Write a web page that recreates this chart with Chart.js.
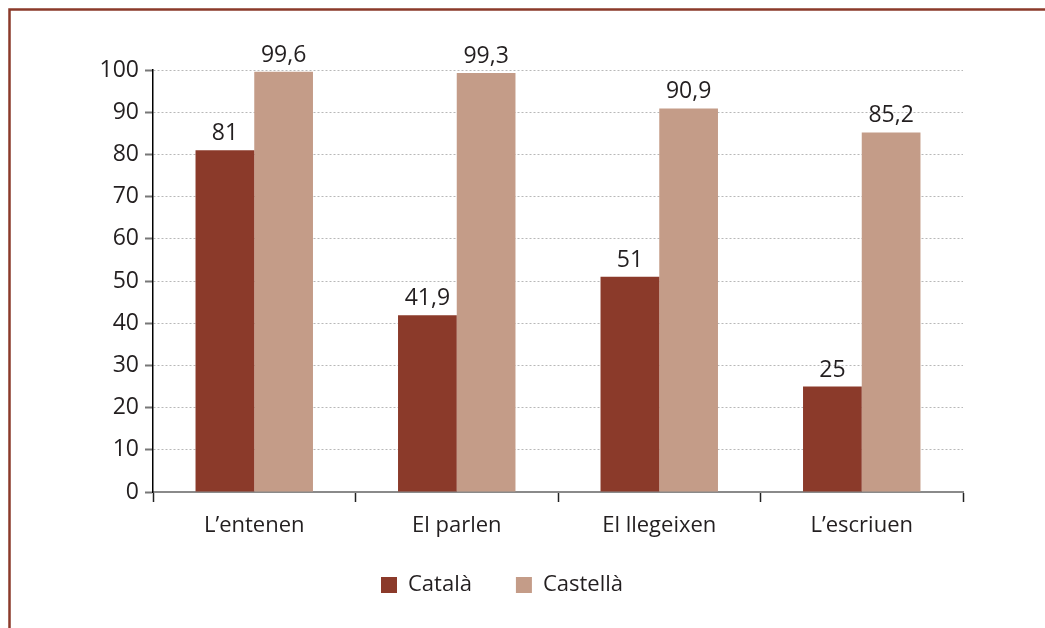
<!DOCTYPE html>
<html>
<head>
<meta charset="utf-8">
<script src="https://cdn.jsdelivr.net/npm/chart.js@4.4.1/dist/chart.umd.min.js"></script>
<style>
html,body{margin:0;padding:0;background:#fff;}
#wrap{position:relative;width:1045px;height:628px;}
</style>
</head>
<body>
<div id="wrap"><canvas id="c" width="1045" height="628"></canvas></div>
<script>
const categories = ["L\u2019entenen", "El parlen", "El llegeixen", "L\u2019escriuen"];
const seriesNames = ["Català", "Castellà"];
const catalaValues = [81, 41.9, 51, 25];
const castellaValues = [99.6, 99.3, 90.9, 85.2];
const yTicks = [0, 10, 20, 30, 40, 50, 60, 70, 80, 90, 100];

const FONT = "'Open Sans', 'DejaVu Sans', sans-serif";
const TXT = "#231f20";

const frame = {
  id: 'frame',
  beforeDraw(chart) {
    const ctx = chart.ctx;
    ctx.save();
    ctx.fillStyle = '#fff';
    ctx.fillRect(0, 0, chart.width, chart.height);
    ctx.strokeStyle = '#8b3a2a';
    ctx.lineWidth = 2.5;
    ctx.beginPath();
    ctx.moveTo(chart.width, 9.5);
    ctx.lineTo(9.5, 9.5);
    ctx.lineTo(9.5, chart.height);
    ctx.stroke();
    ctx.restore();
  }
};

const legendShift = {
  id: 'legendShift',
  afterLayout(chart) {
    const lg = chart.legend;
    if (!lg) return;
    const h = lg.height;
    lg.top = 530;
    lg.bottom = 530 + h;
  }
};

const valueLabels = {
  id: 'valueLabels',
  afterDatasetsDraw(chart) {
    const ctx = chart.ctx;
    ctx.save();
    ctx.font = "23px " + FONT;
    ctx.fillStyle = TXT;
    ctx.textAlign = 'center';
    ctx.textBaseline = 'alphabetic';
    chart.data.datasets.forEach((ds, i) => {
      chart.getDatasetMeta(i).data.forEach((bar, j) => {
        const v = ds.data[j];
        const s = String(v).replace('.', ',');
        ctx.fillText(s, bar.x, bar.y - 10);
      });
    });
    ctx.restore();
  }
};

new Chart(document.getElementById('c'), {
  type: 'bar',
  data: {
    labels: categories,
    datasets: [
      { label: seriesNames[0], data: catalaValues, backgroundColor: '#8b3a2a' },
      { label: seriesNames[1], data: castellaValues, backgroundColor: '#c49c88' }
    ]
  },
  options: {
    responsive: false,
    animation: false,
    devicePixelRatio: 1,
    layout: { padding: { top: 70, right: 82, bottom: 10, left: 41 } },
    datasets: { bar: { categoryPercentage: 0.58, barPercentage: 1.0 } },
    plugins: {
      legend: {
        position: 'bottom',
        labels: {
          boxWidth: 16, boxHeight: 16,
          color: TXT,
          font: { family: FONT, size: 22 },
          padding: 44
        }
      },
      tooltip: { enabled: false }
    },
    scales: {
      x: {
        grid: { display: true, drawOnChartArea: false, drawTicks: true, tickLength: 10, tickColor: '#222', tickWidth: 1.5, offset: true },
        border: { display: true, color: '#8a8a8a', width: 2 },
        ticks: { color: TXT, font: { family: FONT, size: 22 }, padding: 11 },
        afterFit(s) { s.height = 50; }
      },
      y: {
        min: 0, max: 100,
        afterBuildTicks(s) { s.ticks = yTicks.map(v => ({ value: v })); },
        grid: { color: '#b8b8b8', lineWidth: 1, tickLength: 8, tickColor: '#777', tickWidth: 2, tickBorderDash: [] },
        border: { display: true, color: '#000', width: 1.5, dash: [2, 2] },
        ticks: { color: TXT, font: { family: FONT, size: 23 }, padding: 6 },
        afterFit(s) { s.width = 112; }
      }
    }
  },
  plugins: [frame, legendShift, valueLabels]
});
</script>
</body>
</html>
